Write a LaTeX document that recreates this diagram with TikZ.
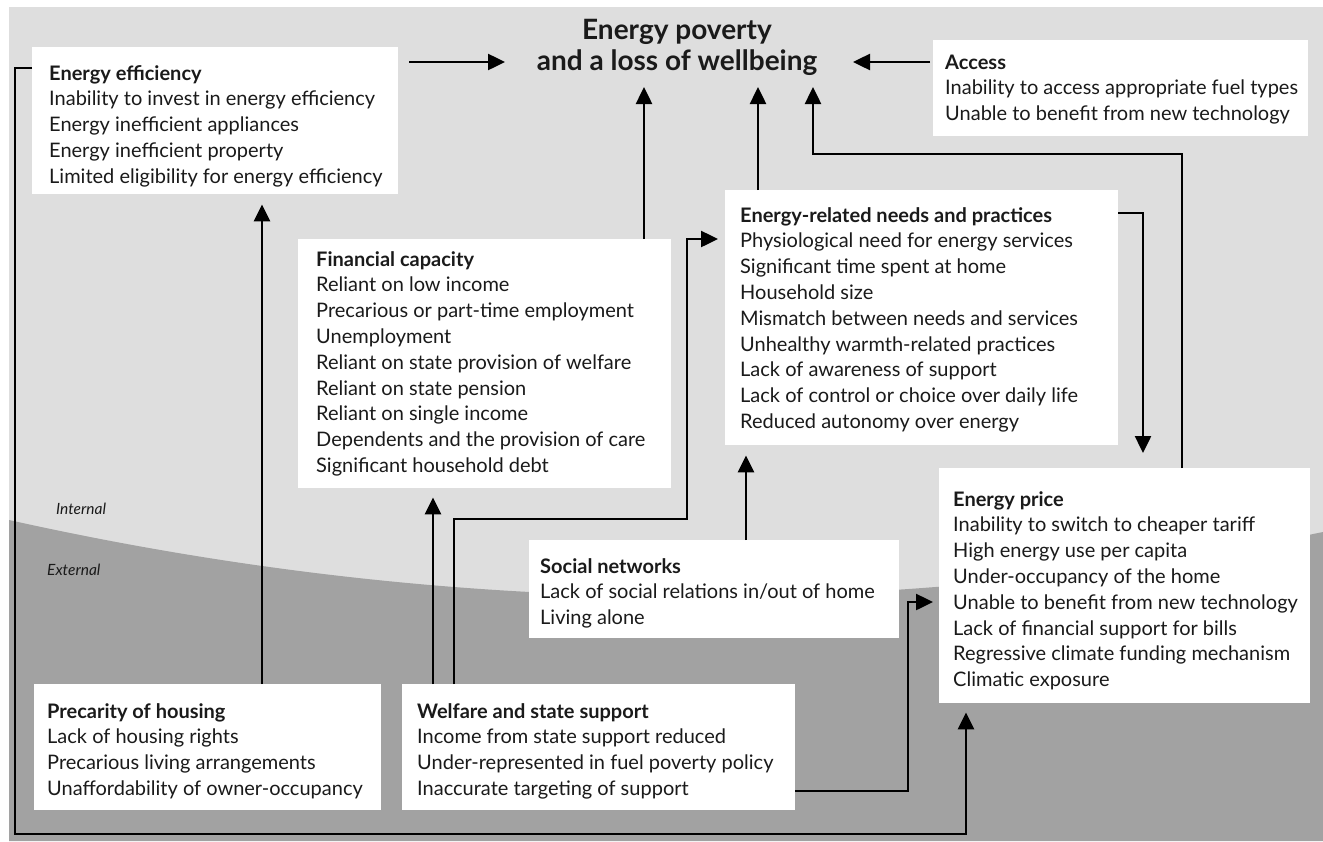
\documentclass[tikz,border=0pt]{standalone}
\usepackage{fontspec}
\setmainfont{Lato}
\usetikzlibrary{arrows.meta}
\definecolor{lightbg}{HTML}{DEDEDE}
\definecolor{darkbg}{HTML}{A2A2A2}
\definecolor{ink}{HTML}{1A1A1A}
\newcommand{\bodyfont}{\fontsize{20}{25.8}\selectfont}
\begin{document}
\begin{tikzpicture}[x=1pt,y=-1pt,
  box/.style={fill=white, draw=none, inner sep=0pt, anchor=north west},
  txt/.style={anchor=base west, inner sep=0pt, font=\bodyfont, text=ink},
  conn/.style={line width=2.5pt, -{Triangle[length=17pt,width=16pt]}},
  lbl/.style={anchor=base west, inner sep=0pt, font=\itshape\fontsize{15.5}{18}\selectfont, text=ink},
]
\useasboundingbox (0,0) rectangle (1323,841);
\fill[lightbg] (9,7) rectangle (1323,841);
\fill[darkbg] (9,520) .. controls (447,617.5) and (885,622) .. (1323,532) -- (1323,841) -- (9,841) -- cycle;

\node[lbl] (intl) at (56,514) {Internal};
\node[lbl] (extl) at (47,575) {External};

% title
\node[inner sep=0pt, text=ink, font=\bfseries\fontsize{28}{31}\selectfont, anchor=base] (title) at (677,39)
  {\begin{tabular}[t]{@{}c@{}}Energy poverty\\and a loss of wellbeing\end{tabular}};
\coordinate (tl) at (505,62);
\coordinate (tr) at (853,62);
\coordinate (tb1) at (644,87);
\coordinate (tb2) at (758,87);
\coordinate (tb3) at (813,87);

% boxes
\node[box, minimum width=366pt, minimum height=147pt] (ee) at (32,47) {};
\node[box, minimum width=375pt, minimum height=96pt] (acc) at (933,40) {};
\node[box, minimum width=373pt, minimum height=249pt] (fc) at (298,239) {};
\node[box, minimum width=393pt, minimum height=255pt] (enp) at (725,190) {};
\node[box, minimum width=371pt, minimum height=235pt] (price) at (939,468) {};
\node[box, minimum width=370pt, minimum height=98pt] (soc) at (529,540) {};
\node[box, minimum width=347pt, minimum height=126pt] (prec) at (34,684) {};
\node[box, minimum width=393pt, minimum height=126pt] (wel) at (402,684) {};

% texts
\node[txt] (eet) at (49,80) {\begin{tabular}[t]{@{}l@{}}\textbf{Energy efficiency}\\
Inability to invest in energy efficiency\\
Energy inefficient appliances\\
Energy inefficient property\\
Limited eligibility for energy efficiency\end{tabular}};

\node[txt] (acct) at (945,69) {\begin{tabular}[t]{@{}l@{}}\textbf{Access}\\
Inability to access appropriate fuel types\\
Unable to benefit from new technology\end{tabular}};

\node[txt] (fct) at (316,266) {\begin{tabular}[t]{@{}l@{}}\textbf{Financial capacity}\\
Reliant on low income\\
Precarious or part-time employment\\
Unemployment\\
Reliant on state provision of welfare\\
Reliant on state pension\\
Reliant on single income\\
Dependents and the provision of care\\
Significant household debt\end{tabular}};

\node[txt] (enpt) at (740,222) {\begin{tabular}[t]{@{}l@{}}\textbf{Energy-related needs and practices}\\
Physiological need for energy services\\
Significant time spent at home\\
Household size\\
Mismatch between needs and services\\
Unhealthy warmth-related practices\\
Lack of awareness of support\\
Lack of control or choice over daily life\\
Reduced autonomy over energy\end{tabular}};

\node[txt] (pricet) at (953,506) {\begin{tabular}[t]{@{}l@{}}\textbf{Energy price}\\
Inability to switch to cheaper tariff\\
High energy use per capita\\
Under-occupancy of the home\\
Unable to benefit from new technology\\
Lack of financial support for bills\\
Regressive climate funding mechanism\\
Climatic exposure\end{tabular}};

\node[txt] (soct) at (540,573) {\begin{tabular}[t]{@{}l@{}}\textbf{Social networks}\\
Lack of social relations in/out of home\\
Living alone\end{tabular}};

\node[txt] (prect) at (47,718) {\begin{tabular}[t]{@{}l@{}}\textbf{Precarity of housing}\\
Lack of housing rights\\
Precarious living arrangements\\
Unaffordability of owner-occupancy\end{tabular}};

\node[txt] (welt) at (417,718) {\begin{tabular}[t]{@{}l@{}}\textbf{Welfare and state support}\\
Income from state support reduced\\
Under-represented in fuel poverty policy\\
Inaccurate targeting of support\end{tabular}};

% connectors
\draw[conn] (262,0 |- prec.north) -- ([yshift=-10pt]262,0 |- ee.south);
\draw[conn, shorten <=11pt] (ee.east |- tl) -- (tl);
\draw[conn, shorten <=3pt] (acc.west |- tr) -- (tr);
\draw[conn] (644,0 |- fc.north) -- (tb1);
\draw[conn] (758,0 |- enp.north) -- (tb2);
\draw[conn] (1182,0 |- price.north) -- (1182,154) -- (813,154) -- (tb3);
\draw[conn, shorten >=15pt] (enp.east |- 0,213) -- (1143,213) -- (1143,0 |- price.north);
\draw[conn, shorten >=10pt] (746,0 |- soc.north) -- (746,0 |- enp.south);
\draw[conn, shorten >=9pt] (433,0 |- wel.north) -- (433,0 |- fc.south);
\draw[conn, shorten >=7pt] (454,0 |- wel.north) -- (454,519) -- (687,519) -- (687,239) -- (enp.west |- 0,239);
\draw[conn, shorten >=6pt] (wel.east |- 0,791) -- (908,791) -- (908,602) -- (price.west |- 0,602);
\draw[conn, shorten >=9pt] (ee.west |- 0,68) -- (15,68) -- (15,834) -- (966,834) -- (966,0 |- price.south);
\end{tikzpicture}
\end{document}
